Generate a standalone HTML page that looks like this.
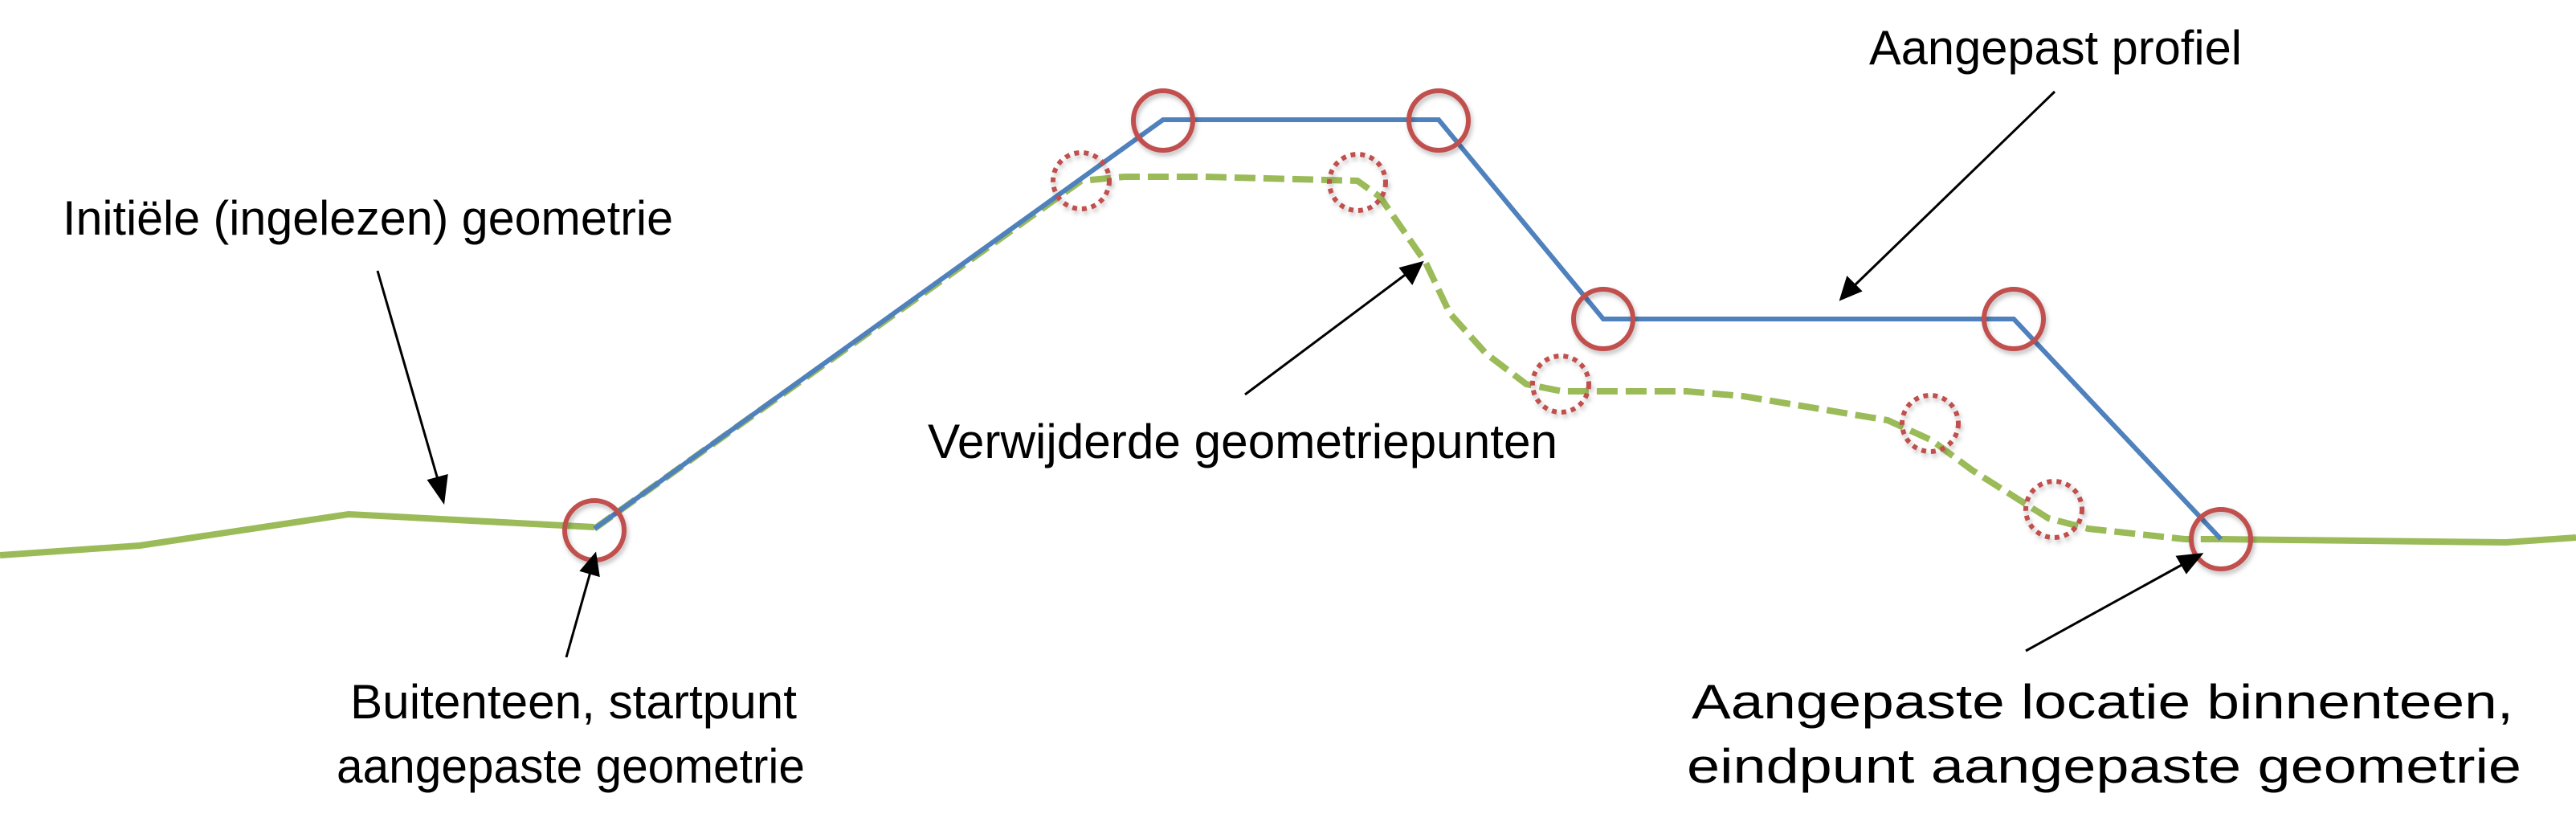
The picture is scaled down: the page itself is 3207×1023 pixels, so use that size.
<!DOCTYPE html>
<html><head><meta charset="utf-8"><style>
html,body{margin:0;padding:0;background:#fff;}
svg{display:block;}
text{font-family:"Liberation Sans Narrow","Liberation Sans",sans-serif;font-size:60px;fill:#000;}
</style></head><body>
<svg width="3207" height="1023" viewBox="0 0 3207 1023" xmlns="http://www.w3.org/2000/svg">
<defs>
<filter id="sh" x="-30%" y="-30%" width="160%" height="160%"><feDropShadow dx="2" dy="4" stdDeviation="3" flood-color="#000" flood-opacity="0.25"/></filter>
</defs>
<polyline points="0,691 174,679 434,640 740,656" fill="none" stroke="#9bbb59" stroke-width="8"/>
<polyline points="2765,671 3120,675 3207,669" fill="none" stroke="#9bbb59" stroke-width="8"/>
<polyline points="740,658 1346,225 1400,220 1500,220 1690,225 1718,245 1775,327 1805,390 1850,440 1900,478 1945,487 2100,487 2170,493 2350,523 2405,548 2455,585 2550,645 2600,658 2720,671 2765,671" fill="none" stroke="#9bbb59" stroke-width="8" stroke-dasharray="26,10"/>
<polyline points="740,658 1448,149 1791,149 1996,397 2507,397 2765,671" fill="none" stroke="#4f81bd" stroke-width="6"/>
<g fill="none" stroke="#c0504d" stroke-width="6" filter="url(#sh)">
<circle cx="1448" cy="150" r="37"/>
<circle cx="1791" cy="150" r="37"/>
<circle cx="1996" cy="397" r="37"/>
<circle cx="2507" cy="397" r="37"/>
<circle cx="740" cy="660" r="37"/>
<circle cx="2765" cy="671" r="37"/>
</g>
<g fill="none" stroke="#c0504d" stroke-width="6" stroke-dasharray="6,6" filter="url(#sh)">
<circle cx="1346" cy="225" r="35"/>
<circle cx="1690" cy="227" r="35"/>
<circle cx="1943" cy="478" r="35"/>
<circle cx="2403" cy="527" r="35"/>
<circle cx="2557" cy="634" r="35"/>
</g>
<g stroke="#000" stroke-width="3" fill="#000">
<line x1="470" y1="337" x2="546" y2="600"/>
<polygon points="552,624 534,598 556,592"/>
<line x1="705" y1="818" x2="735" y2="712"/>
<polygon points="741,690 745,716 724,710"/>
<line x1="1550" y1="491" x2="1752" y2="340"/>
<polygon points="1770,327 1758,352 1744,334"/>
<line x1="2558" y1="114" x2="2308" y2="356"/>
<polygon points="2292,372 2300,346 2316,362"/>
<line x1="2522" y1="810" x2="2718" y2="702"/>
<polygon points="2740,690 2722,712 2711,693"/>
</g>
<text x="78" y="292" textLength="760" lengthAdjust="spacingAndGlyphs">Initiële (ingelezen) geometrie</text>
<text x="2327" y="80" textLength="464" lengthAdjust="spacingAndGlyphs">Aangepast profiel</text>
<text x="1155" y="570" textLength="784" lengthAdjust="spacingAndGlyphs">Verwijderde geometriepunten</text>
<text x="436" y="894" textLength="556" lengthAdjust="spacingAndGlyphs">Buitenteen, startpunt</text>
<text x="419" y="974" textLength="583" lengthAdjust="spacingAndGlyphs">aangepaste geometrie</text>
<text x="2106" y="894" textLength="1023" lengthAdjust="spacingAndGlyphs">Aangepaste locatie binnenteen,</text>
<text x="2100" y="974" textLength="1039" lengthAdjust="spacingAndGlyphs">eindpunt aangepaste geometrie</text>
</svg>
</body></html>
